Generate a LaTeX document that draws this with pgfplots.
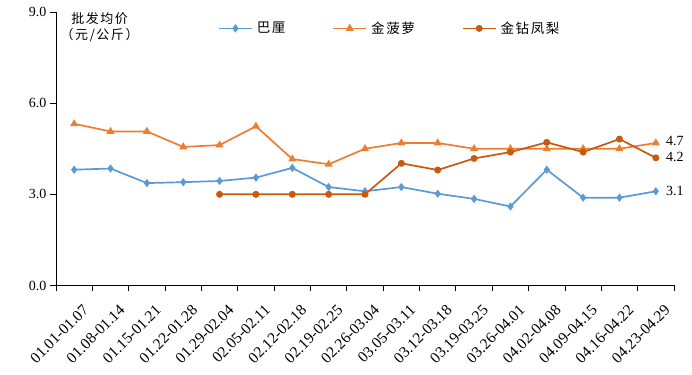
\documentclass[border=0pt]{standalone}
\usepackage{pgfplots}
\pgfplotsset{compat=1.18}
\usepackage{fontspec}
\setmainfont{Liberation Serif}
\newfontfamily\cjk[LetterSpace=12]{Noto Sans CJK SC}
\definecolor{cblue}{HTML}{5B9BD5}
\definecolor{corange}{HTML}{ED7D31}
\definecolor{cdark}{HTML}{C55A11}
\begin{document}
\begin{tikzpicture}
\begin{axis}[
  scale only axis,
  width=618pt, height=273.5pt,
  xmin=-0.5, xmax=16.5,
  ymin=0, ymax=9,
  axis x line*=bottom, axis y line*=left,
  axis line style={black, line width=0.8pt, -},
  xtick={0,...,16},
  xticklabels={01.01-01.07,01.08-01.14,01.15-01.21,01.22-01.28,01.29-02.04,02.05-02.11,02.12-02.18,02.19-02.25,02.26-03.04,03.05-03.11,03.12-03.18,03.19-03.25,03.26-04.01,04.02-04.08,04.09-04.15,04.16-04.22,04.23-04.29},
  major x tick style={draw=none},
  minor xtick={-0.5,0.5,...,16.5},
  minor tick length=6pt,
  minor x tick style={black, line width=0.8pt},
  x tick label style={rotate=45, anchor=north east, font=\fontsize{15.5}{17}\selectfont, inner sep=0pt, yshift=-14pt, xshift=-3pt},
  ytick={0,3,6,9},
  major tick length=6pt,
  tick align=outside,
  y tick style={black, line width=0.8pt},
  y tick label style={font=\fontsize{14}{16}\selectfont},
  yticklabel style={/pgf/number format/.cd, fixed, fixed zerofill, precision=1, assume math mode=true},
  legend columns=3,
  legend style={draw=none, fill=none, at={(rel axis cs:0.262,0.94)}, anchor=west, font=\cjk\fontsize{13.5}{15}\selectfont, inner sep=0pt, /tikz/every odd column/.append style={column sep=2pt}, /tikz/every even column/.append style={column sep=45pt}},
  legend image code/.code={\draw[#1] (0pt,0pt) -- (33pt,0pt); \draw[#1, mark repeat=1] plot coordinates {(16.5pt,0pt)};},
  every axis plot/.append style={line width=1.7pt},
  clip=false,
]
\addplot[cblue, mark=diamond*, mark size=2.8pt, mark options={solid, fill=cblue}] coordinates {
(0,3.81)(1,3.85)(2,3.37)(3,3.40)(4,3.44)(5,3.55)(6,3.87)(7,3.24)(8,3.10)(9,3.24)(10,3.02)(11,2.85)(12,2.60)(13,3.81)(14,2.89)(15,2.89)(16,3.10)};
\addlegendentry{巴厘}
\addplot[corange, mark=triangle*, mark size=3pt, mark options={solid, fill=corange}] coordinates {
(0,5.32)(1,5.07)(2,5.07)(3,4.56)(4,4.62)(5,5.24)(6,4.16)(7,3.99)(8,4.50)(9,4.69)(10,4.69)(11,4.50)(12,4.50)(13,4.50)(14,4.50)(15,4.50)(16,4.69)};
\addlegendentry{金菠萝}
\addplot[cdark, mark=*, mark size=2.6pt, mark options={solid, fill=cdark}] coordinates {
(4,3.0)(5,3.0)(6,3.0)(7,3.0)(8,3.0)(9,4.02)(10,3.80)(11,4.18)(12,4.39)(13,4.71)(14,4.39)(15,4.82)(16,4.2)};
\addlegendentry{金钻凤梨}
\node[anchor=west, font=\fontsize{14}{16}\selectfont, inner sep=0pt] at (axis cs:16,4.76) {\hspace{10pt}4.7};
\node[anchor=west, font=\fontsize{14}{16}\selectfont, inner sep=0pt] at (axis cs:16,4.22) {\hspace{10pt}4.2};
\node[anchor=west, font=\fontsize{14}{16}\selectfont, inner sep=0pt] at (axis cs:16,3.10) {\hspace{10pt}3.1};
\node[anchor=north, align=center, font=\cjk\fontsize{13}{16}\selectfont, inner sep=0pt] at (axis cs:0.7,9.0) {批发均价\\（元/公斤）};
\end{axis}
\pgfresetboundingbox
\path ([xshift=-56pt,yshift=12pt]current axis.north west) rectangle ([xshift=18pt,yshift=-89.5pt]current axis.south east);
\end{tikzpicture}
\end{document}
